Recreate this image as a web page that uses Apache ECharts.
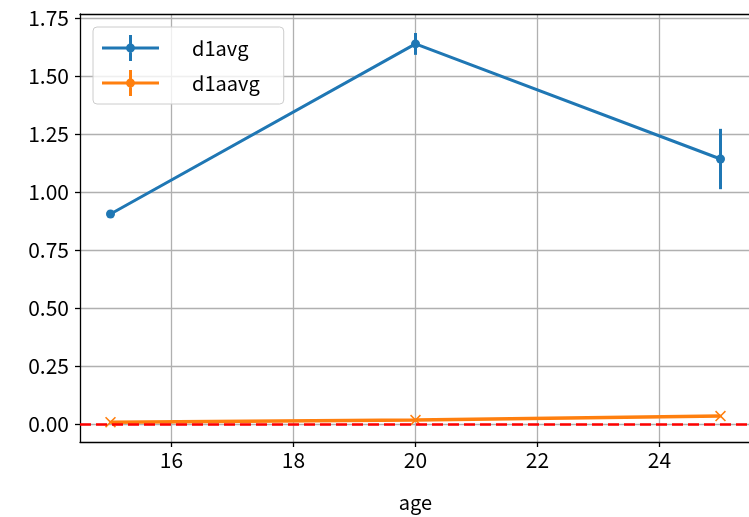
<!DOCTYPE html>
<html><head><meta charset="utf-8">
<script src="https://cdn.jsdelivr.net/npm/echarts@6/dist/echarts.min.js"></script>
<style>html,body{margin:0;padding:0;background:#fff}#c{width:749px;height:517px}</style>
</head><body><div id="c"></div>
<script>
const ages = [15, 20, 25];
const d1avg = [0.905, 1.638, 1.142];
const d1avgErr = [0.0, 0.047, 0.13];
const d1aavg = [0.008, 0.017, 0.034];
const d1aavgErr = [0.002, 0.004, 0.004];
const xTicks = [16, 18, 20, 22, 24];
const yTicks = [0, 0.25, 0.5, 0.75, 1.0, 1.25, 1.5, 1.75];
const refY = 0;

const FONT = '"Noto Sans CJK JP", "DejaVu Sans", sans-serif';
const BLUE = '#1f77b4', ORANGE = '#ff7f0e';

function errData(vals, errs) {
  return ages.map((a, i) => [a, vals[i] - errs[i], vals[i] + errs[i]]);
}
function errSeries(name, vals, errs, color) {
  return {
    type: 'custom', name: name, z: 3, silent: true,
    data: errData(vals, errs),
    renderItem: function (params, api) {
      const p1 = api.coord([api.value(0), api.value(1)]);
      const p2 = api.coord([api.value(0), api.value(2)]);
      return { type: 'line', shape: { x1: p1[0], y1: p1[1], x2: p2[0], y2: p2[1] },
        style: { stroke: color, lineWidth: 3 } };
    }
  };
}
const xSym = 'path://M1,0L5,4L9,0L10,1L6,5L10,9L9,10L5,6L1,10L0,9L4,5L0,1Z';
const legIcon = 'path://M0,11.5h57v3h-57z M27,0h3v26h-3z M33,13a4.5,4.5 0 1,1 -9,0a4.5,4.5 0 1,1 9,0z';
const axLine = { show: true, onZero: false, lineStyle: { color: '#000', width: 1.3 } };

const chart = echarts.init(document.getElementById('c'));
chart.setOption({
  animation: false,
  textStyle: { fontFamily: FONT },
  grid: { left: 80, top: 14, width: 671, height: 428, outerBoundsMode: 'none', containLabel: false, show: false },
  legend: {
    left: 93, top: 27, orient: 'vertical',
    padding: [8, 24, 8, 9], itemGap: 9, itemWidth: 57, itemHeight: 26,
    backgroundColor: 'rgba(255,255,255,0.8)', borderColor: '#cccccc', borderWidth: 1, borderRadius: 4,
    textStyle: { fontFamily: FONT, fontSize: 20, color: '#000', padding: [0, 0, 0, 28] },
    data: [
      { name: 'd1avg', icon: legIcon, itemStyle: { color: BLUE } },
      { name: 'd1aavg', icon: legIcon, itemStyle: { color: ORANGE } }
    ]
  },
  xAxis: [{
    type: 'value', min: 14.5, max: 25.5,
    name: 'age', nameLocation: 'middle', nameGap: 50,
    nameTextStyle: { fontFamily: FONT, fontSize: 20, color: '#000' },
    axisLine: axLine,
    axisTick: { show: true, length: 5, lineStyle: { color: '#000', width: 1.3 }, customValues: xTicks },
    axisLabel: { fontFamily: FONT, fontSize: 21, color: '#000', margin: 8, customValues: xTicks },
    splitLine: { show: true, lineStyle: { color: '#b0b0b0', width: 1.3 } }
  }, {
    type: 'value', min: 14.5, max: 25.5, position: 'top',
    axisLine: axLine, axisTick: { show: false }, axisLabel: { show: false }, splitLine: { show: false }
  }],
  yAxis: {
    type: 'value', min: -0.0776, max: 1.767,
    axisLine: axLine,
    axisTick: { show: true, length: 5, lineStyle: { color: '#000', width: 1.3 }, customValues: yTicks },
    axisLabel: { fontFamily: FONT, fontSize: 21, color: '#000', margin: 11, customValues: yTicks,
      formatter: v => v.toFixed(2) },
    splitLine: { show: true, lineStyle: { color: '#b0b0b0', width: 1.3 } }
  },
  series: [
    { name: 'd1avg', type: 'line', data: ages.map((a, i) => [a, d1avg[i]]),
      color: BLUE, lineStyle: { width: 3, color: BLUE }, symbol: 'circle', symbolSize: 9,
      itemStyle: { color: BLUE }, z: 4 },
    errSeries('d1avg', d1avg, d1avgErr, BLUE),
    { name: 'd1aavg', type: 'line', data: ages.map((a, i) => [a, d1aavg[i]]),
      color: ORANGE, lineStyle: { width: 3.5, color: ORANGE }, symbol: xSym, symbolSize: 11,
      itemStyle: { color: ORANGE }, z: 4,
      markLine: { silent: true, symbol: 'none', label: { show: false },
        lineStyle: { color: '#ff0000', type: [11, 5], width: 2.5 },
        data: [{ yAxis: refY }] } },
    errSeries('d1aavg', d1aavg, d1aavgErr, ORANGE)
  ]
});
</script></body></html>
